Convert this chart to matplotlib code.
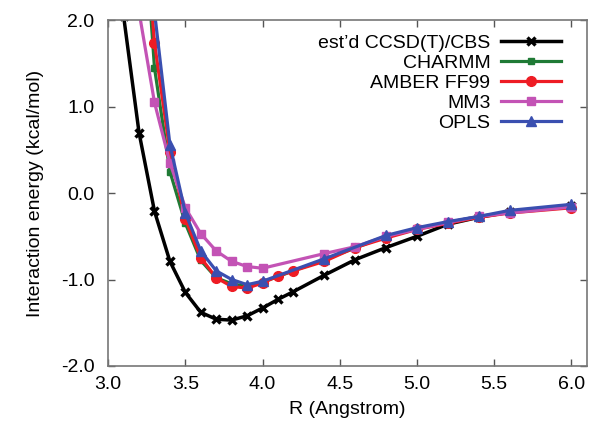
import matplotlib
matplotlib.use('Agg')
from matplotlib import pyplot as plt

plt.rcParams['font.family'] = ['Liberation Sans', 'DejaVu Sans']

# separations (Angstrom) and energies (kcal/mol)
r_ccsd = [3.1, 3.2, 3.3, 3.4, 3.5, 3.6, 3.7, 3.8, 3.9, 4.0, 4.1, 4.2, 4.4, 4.6, 4.8, 5.0, 5.2, 5.4, 5.6, 6.0]
e_ccsd = [2.05, 0.70, -0.21, -0.79, -1.15, -1.38, -1.46, -1.47, -1.42, -1.33, -1.23, -1.14, -0.95, -0.77, -0.63, -0.50, -0.36, -0.28, -0.22, -0.15]

r_charmm = [3.2, 3.3, 3.4, 3.5, 3.6, 3.7, 3.8, 3.9, 4.0, 4.4, 4.8, 5.0, 5.2, 5.4, 5.6, 6.0]
e_charmm = [4.0, 1.45, 0.25, -0.35, -0.78, -0.98, -1.05, -1.08, -1.03, -0.77, -0.50, -0.41, -0.34, -0.27, -0.22, -0.15]

r_amber = [3.2, 3.3, 3.4, 3.5, 3.6, 3.7, 3.8, 3.9, 4.0, 4.1, 4.2, 4.4, 4.6, 4.8, 5.0, 5.2, 5.4, 5.6, 6.0]
e_amber = [4.0, 1.74, 0.48, -0.30, -0.75, -0.98, -1.08, -1.10, -1.04, -0.96, -0.90, -0.79, -0.63, -0.52, -0.42, -0.35, -0.28, -0.23, -0.17]

r_mm3 = [3.2, 3.3, 3.4, 3.5, 3.6, 3.7, 3.8, 3.9, 4.0, 4.4, 4.6, 4.8, 5.0, 5.2, 5.4, 5.6, 6.0]
e_mm3 = [2.1, 1.05, 0.35, -0.17, -0.47, -0.67, -0.79, -0.85, -0.87, -0.70, -0.62, -0.50, -0.42, -0.34, -0.27, -0.23, -0.16]

r_opls = [3.2, 3.3, 3.4, 3.5, 3.6, 3.7, 3.8, 3.9, 4.0, 4.4, 4.8, 5.0, 5.2, 5.4, 5.6, 6.0]
e_opls = [5.0, 2.1, 0.56, -0.23, -0.67, -0.90, -1.00, -1.06, -1.02, -0.76, -0.49, -0.40, -0.33, -0.27, -0.20, -0.13]

fig = plt.figure(figsize=(5.91, 4.32), dpi=100)
ax = fig.add_axes([0.183, 0.153, 0.810, 0.800])

ax.plot(r_ccsd, e_ccsd, color='black', lw=2.5, marker='x', ms=6, mew=2.4, label="est\u2019d CCSD(T)/CBS")
ax.plot(r_charmm, e_charmm, color='#1f7a35', lw=2.3, marker='s', ms=4, label='CHARMM')
ax.plot(r_amber, e_amber, color='#ee1c24', lw=2.3, marker='o', ms=7, label='AMBER FF99')
ax.plot(r_mm3, e_mm3, color='#c353b5', lw=2.3, marker='s', ms=6, label='MM3')
ax.plot(r_opls, e_opls, color='#3a4fb0', lw=2.3, marker='^', ms=7, label='OPLS')

ax.set_xlim(3.0, 6.1)
ax.set_ylim(-2.0, 2.0)
ax.set_xticks([3.0, 3.5, 4.0, 4.5, 5.0, 5.5, 6.0])
ax.set_yticks([-2.0, -1.0, 0.0, 1.0, 2.0])
ax.set_xticklabels(['3.0', '3.5', '4.0', '4.5', '5.0', '5.5', '6.0'])
ax.set_yticklabels(['-2.0', '-1.0', '0.0', '1.0', '2.0'])

for s in ax.spines.values():
    s.set_color('#777777')
    s.set_linewidth(1.2)
ax.tick_params(direction='in', top=True, right=True, length=5, width=1, color='#555555',
               labelsize=14, pad=7)
ax.tick_params(axis='y', pad=10)

ax.set_xlabel('R (Angstrom)', fontsize=14, labelpad=6)
ax.set_ylabel('Interaction energy (kcal/mol)', fontsize=14, labelpad=12)

ax.legend(loc='upper right', frameon=False, markerfirst=False, fontsize=14,
          handlelength=3.1, handletextpad=0.55, labelspacing=0.13,
          borderaxespad=0.3, bbox_to_anchor=(0.975, 1.0))

fig.savefig('out.png', dpi=100)
